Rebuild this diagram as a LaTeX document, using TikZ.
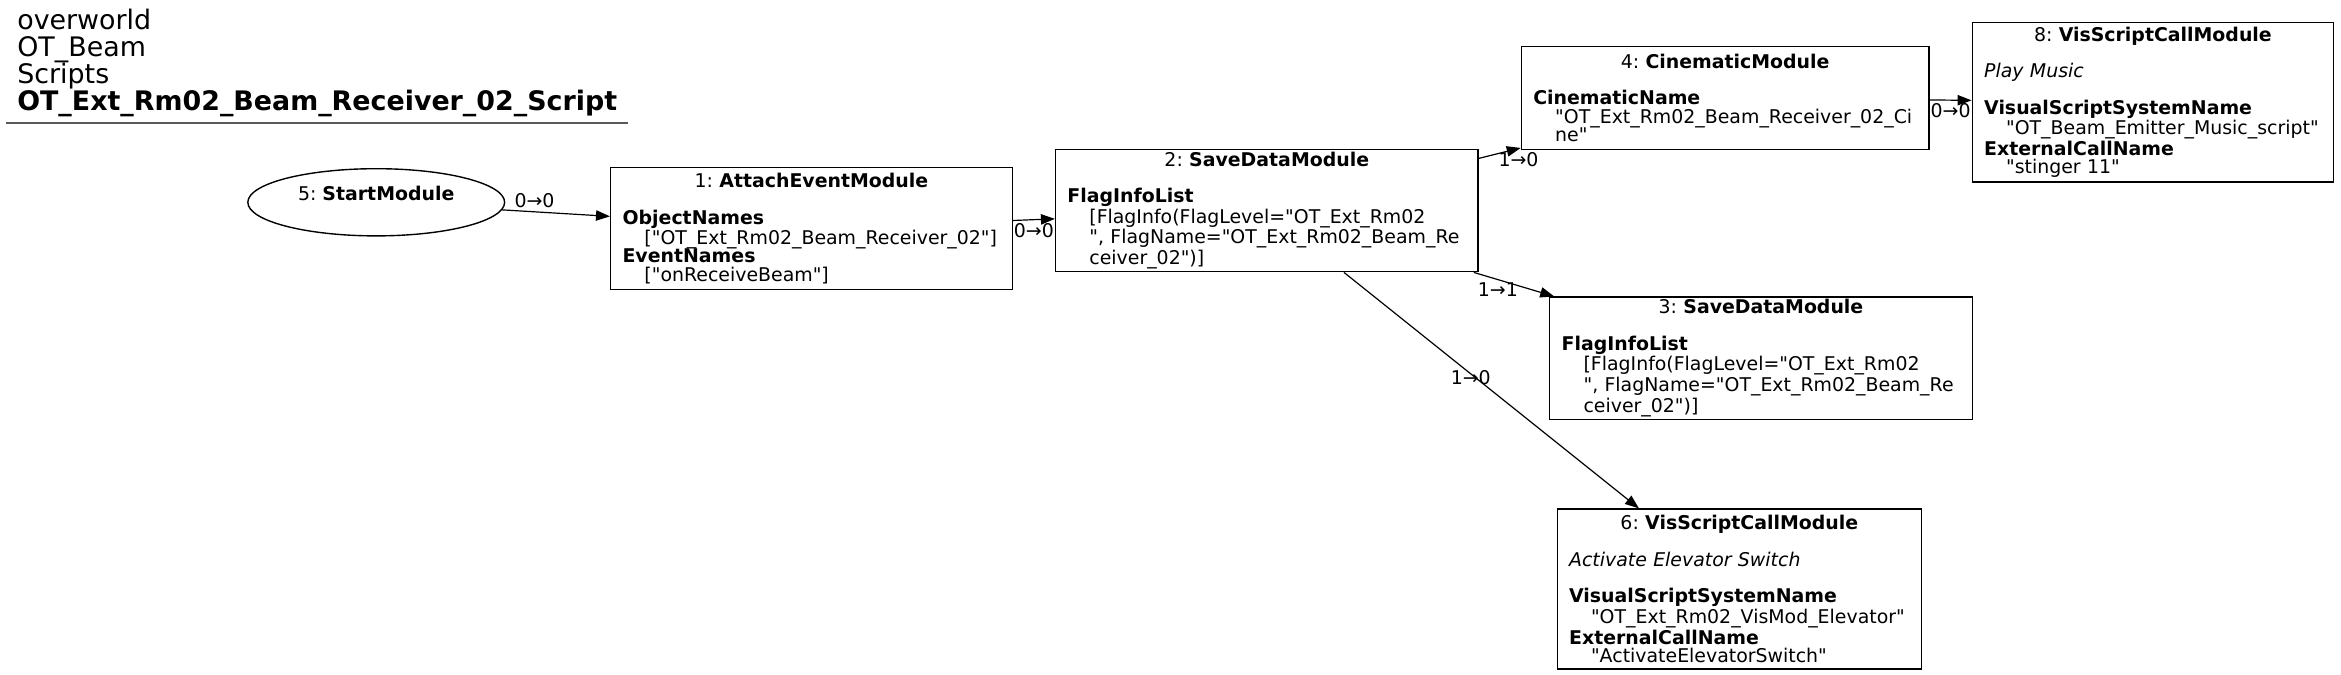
\documentclass[tikz,border=0pt]{standalone}
\usepackage{fontspec}
\setmainfont{DejaVu Sans}[Ligatures=TeXOff]
\usetikzlibrary{arrows.meta,shapes.geometric}
\newcommand{\modhead}[2]{\makebox[\hsize][c]{#1: \textbf{#2}}}
\newcommand{\ind}{\hspace*{11pt}}
\frenchspacing
\begin{document}
\begin{tikzpicture}[x=0.75pt, y=-0.75pt,
    font=\fontsize{9.5}{9.2}\selectfont, >={Triangle[length=7pt,width=5.2pt]},
    module/.style={draw, line width=0.7pt, rectangle, align=left, inner xsep=6pt, inner ysep=0pt},
    startmod/.style={draw, line width=0.7pt, ellipse, align=center, inner sep=0pt},
    link/.style={->, line width=0.6pt},
    lbl/.style={inner sep=1.5pt}]
  \useasboundingbox (0,0) rectangle (1568,452);
  % heading
  \node[anchor=north west, align=left, inner xsep=5.5pt, inner ysep=3pt, font=\fontsize{13.5}{13.5}\selectfont] (heading) at (4,2)
    {overworld\\OT\_Beam\\Scripts\\\textbf{OT\_Ext\_Rm02\_Beam\_Receiver\_02\_Script}};
  \draw[line width=1pt, gray!70!black] (heading.south west) -- (heading.south east);
  % modules
  \node[startmod, minimum width=172*0.75pt, minimum height=45*0.75pt] (n5) at (252,135.5)
    {5: \textbf{StartModule}\\~};
  \node[module, text width=269*0.75pt-12pt, minimum height=82*0.75pt] (n1) at (543.5,153)
    {\modhead{1}{AttachEventModule}\\[9.2pt]
     \textbf{ObjectNames}\\
     \ind["OT\_Ext\_Rm02\_Beam\_Receiver\_02"]\\
     \textbf{EventNames}\\
     \ind["onReceiveBeam"]};
  \node[module, text width=283*0.75pt-12pt, minimum height=82*0.75pt] (n2) at (848.5,141)
    {\modhead{2}{SaveDataModule}\\[9.2pt]
     \textbf{FlagInfoList}\\
     \ind[FlagInfo(FlagLevel="OT\_Ext\_Rm02\\
     \ind", FlagName="OT\_Ext\_Rm02\_Beam\_Re\\
     \ind ceiver\_02")]};
  \node[module, text width=273*0.75pt-12pt, minimum height=69*0.75pt] (n4) at (1155.5,65.5)
    {\modhead{4}{CinematicModule}\\[9.2pt]
     \textbf{CinematicName}\\
     \ind"OT\_Ext\_Rm02\_Beam\_Receiver\_02\_Ci\\
     \ind ne"};
  \node[module, text width=242*0.75pt-12pt, minimum height=107*0.75pt] (n8) at (1442,68.5)
    {\modhead{8}{VisScriptCallModule}\\[9.2pt]
     \textit{Play Music}\\[9.2pt]
     \textbf{VisualScriptSystemName}\\
     \ind"OT\_Beam\_Emitter\_Music\_script"\\
     \textbf{ExternalCallName}\\
     \ind"stinger 11"};
  \node[module, text width=283*0.75pt-12pt, minimum height=82*0.75pt] (n3) at (1179.5,240)
    {\modhead{3}{SaveDataModule}\\[9.2pt]
     \textbf{FlagInfoList}\\
     \ind[FlagInfo(FlagLevel="OT\_Ext\_Rm02\\
     \ind", FlagName="OT\_Ext\_Rm02\_Beam\_Re\\
     \ind ceiver\_02")]};
  \node[module, text width=244*0.75pt-12pt, minimum height=107*0.75pt] (n6) at (1165,394.5)
    {\modhead{6}{VisScriptCallModule}\\[9.2pt]
     \textit{Activate Elevator Switch}\\[9.2pt]
     \textbf{VisualScriptSystemName}\\
     \ind"OT\_Ext\_Rm02\_VisMod\_Elevator"\\
     \textbf{ExternalCallName}\\
     \ind"ActivateElevatorSwitch"};
  % links
  \draw[link] (n5) -- node[lbl, pos=0.3, above] {0→0} (n1);
  \draw[link] (n1) -- node[lbl, pos=0.5, below] {0→0} (n2);
  \draw[link] (n2) -- node[lbl, pos=0.95, below] {1→0} (n4);
  \draw[link] (n2) -- node[lbl, pos=0.3, below] {1→1} (n3);
  \draw[link] (n2) -- node[lbl, pos=0.43, yshift=-2pt] {1→0} (n6);
  \draw[link] (n4) -- node[lbl, midway, below] {0→0} (n8);
\end{tikzpicture}
\end{document}
